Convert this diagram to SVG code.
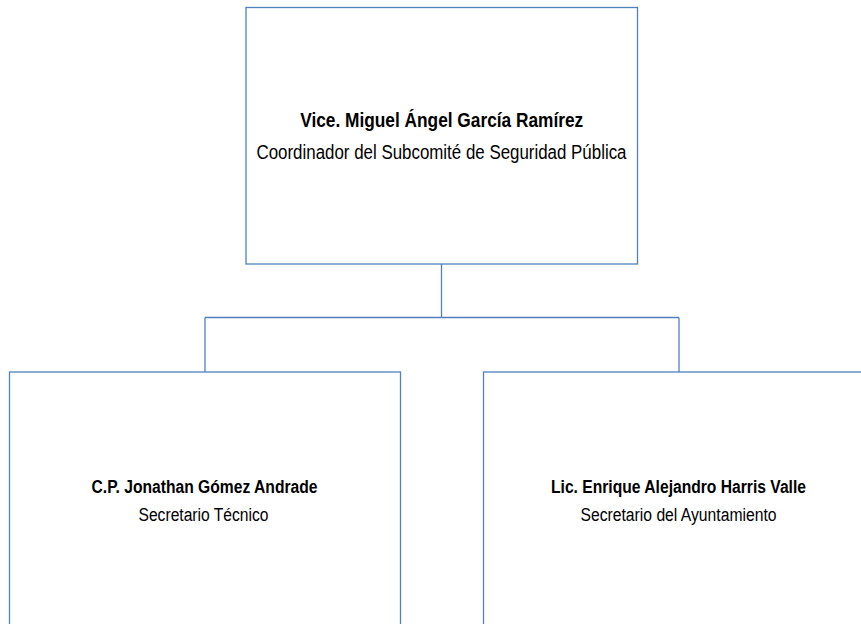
<svg xmlns="http://www.w3.org/2000/svg" width="861" height="624" viewBox="0 0 861 624">
<style>
.box{fill:#ffffff;stroke:#4f81bd;stroke-width:1.3}
.conn{fill:none;stroke:#4f81bd;stroke-width:1.3}
.t{font-family:"Liberation Sans",Arial,sans-serif;fill:#000000;text-anchor:middle}
.b{font-weight:bold}
</style>
<rect width="861" height="624" fill="#ffffff"/>
<g id="connectors">
<path class="conn" d="M441.5 264 V317.5 M205 317.5 H679 M205 317.5 V372 M679 317.5 V372"/>
</g>
<g id="node-coordinador">
<rect class="box" x="246" y="7.5" width="391.5" height="256.5"/>
<text class="t b" x="441.7" y="127" font-size="20" textLength="283" lengthAdjust="spacingAndGlyphs">Vice. Miguel Ángel García Ramírez</text>
<text class="t" x="441.5" y="159" font-size="20" textLength="370" lengthAdjust="spacingAndGlyphs">Coordinador del Subcomité de Seguridad Pública</text>
</g>
<g id="node-secretario-tecnico">
<rect class="box" x="9.5" y="372" width="391" height="256"/>
<text class="t b" x="204.5" y="492.5" font-size="18" textLength="226" lengthAdjust="spacingAndGlyphs">C.P. Jonathan Gómez Andrade</text>
<text class="t" x="203.5" y="521" font-size="18" textLength="130" lengthAdjust="spacingAndGlyphs">Secretario Técnico</text>
</g>
<g id="node-secretario-ayuntamiento">
<rect class="box" x="483.5" y="372" width="391" height="256"/>
<text class="t b" x="678.5" y="492.5" font-size="18" textLength="255" lengthAdjust="spacingAndGlyphs">Lic. Enrique Alejandro Harris Valle</text>
<text class="t" x="678.5" y="521" font-size="18" textLength="196" lengthAdjust="spacingAndGlyphs">Secretario del Ayuntamiento</text>
</g>
</svg>
